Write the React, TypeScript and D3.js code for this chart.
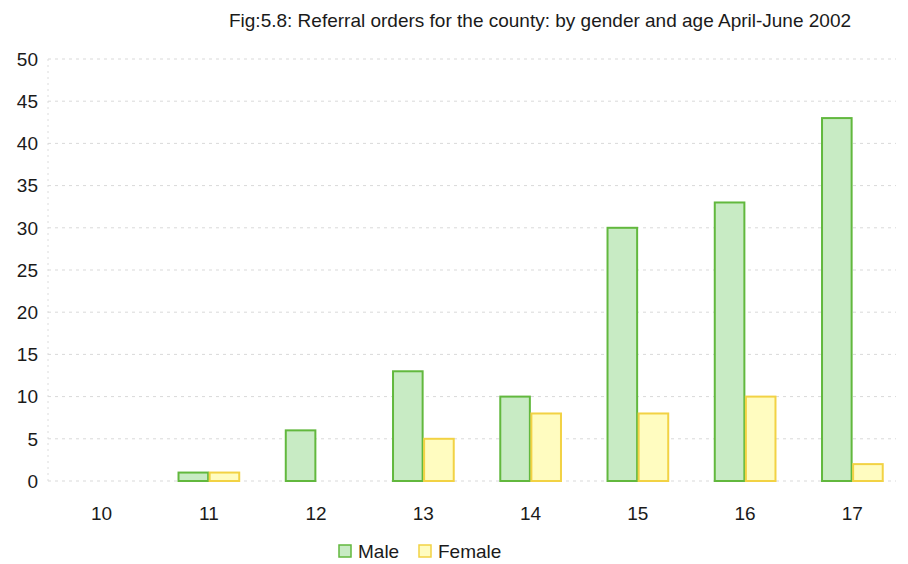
import * as d3 from "d3";
import * as React from "react";

const ages = ["10", "11", "12", "13", "14", "15", "16", "17"];
const male = [0, 1, 6, 13, 10, 30, 33, 43];
const female = [0, 1, 0, 5, 8, 8, 10, 2];
const seriesNames = ["Male", "Female"];
const yTicks = [0, 5, 10, 15, 20, 25, 30, 35, 40, 45, 50];

const fills = ["#c8ebc4", "#fffcc0"];
const strokes = ["#62b83e", "#f2d244"];

const width = 908;
const height = 564;
const margin = { top: 59, right: 2, bottom: 83, left: 48 };
const font = "'Liberation Sans', Arial, sans-serif";

export default function App() {
  const x = d3
    .scaleBand()
    .domain(ages)
    .range([margin.left, width - margin.right])
    .paddingInner(0.42)
    .paddingOuter(0.21);
  const inner = d3
    .scaleBand()
    .domain(seriesNames)
    .range([0, x.bandwidth()]);
  const y = d3
    .scaleLinear()
    .domain([0, 50])
    .range([height - margin.bottom, margin.top]);

  const series = [male, female];

  return (
    <svg
      width={width}
      height={height}
      style={{ position: "absolute", left: 0, top: 0, background: "#fff" }}
      fontFamily={font}
    >
      <text x={540} y={27} textAnchor="middle" fontSize={19} fill="#1a1a1a">
        Fig:5.8: Referral orders for the county: by gender and age April-June 2002
      </text>

      {/* grid */}
      {yTicks.map((t) => (
        <g key={t}>
          <line
            x1={margin.left}
            x2={width - 12}
            y1={y(t)}
            y2={y(t)}
            stroke="#d9d9d9"
            strokeDasharray="3,4"
          />
          <text
            x={38}
            y={y(t)}
            dy="0.36em"
            textAnchor="end"
            fontSize={19}
            fill="#1a1a1a"
          >
            {t}
          </text>
        </g>
      ))}
      <line
        x1={margin.left}
        x2={margin.left}
        y1={y(50)}
        y2={y(0)}
        stroke="#dcdcdc"
        strokeDasharray="2,4"
      />

      {/* bars */}
      {ages.map((a, i) => (
        <g key={a} transform={`translate(${x(a)},0)`}>
          {series.map((s, j) =>
            s[i] > 0 ? (
              <rect
                key={j}
                x={inner(seriesNames[j])! + 0.75}
                y={y(s[i])}
                width={inner.bandwidth() - 1.5}
                height={y(0) - y(s[i])}
                fill={fills[j]}
                stroke={strokes[j]}
                strokeWidth={2}
              />
            ) : null
          )}
        </g>
      ))}

      {/* x labels */}
      {ages.map((a) => (
        <text
          key={a}
          x={x(a)! + x.bandwidth() / 2}
          y={y(0) + 39}
          textAnchor="middle"
          fontSize={19}
          fill="#1a1a1a"
        >
          {a}
        </text>
      ))}

      {/* legend */}
      <g transform="translate(339,545)">
        {seriesNames.map((n, j) => (
          <g key={n} transform={`translate(${j * 80},0)`}>
            <rect
              x={0}
              y={0}
              width={12}
              height={12}
              fill={fills[j]}
              stroke={strokes[j]}
              strokeWidth={1.5}
            />
            <text x={19} y={12.5} fontSize={19} fill="#1a1a1a">
              {n}
            </text>
          </g>
        ))}
      </g>
    </svg>
  );
}
